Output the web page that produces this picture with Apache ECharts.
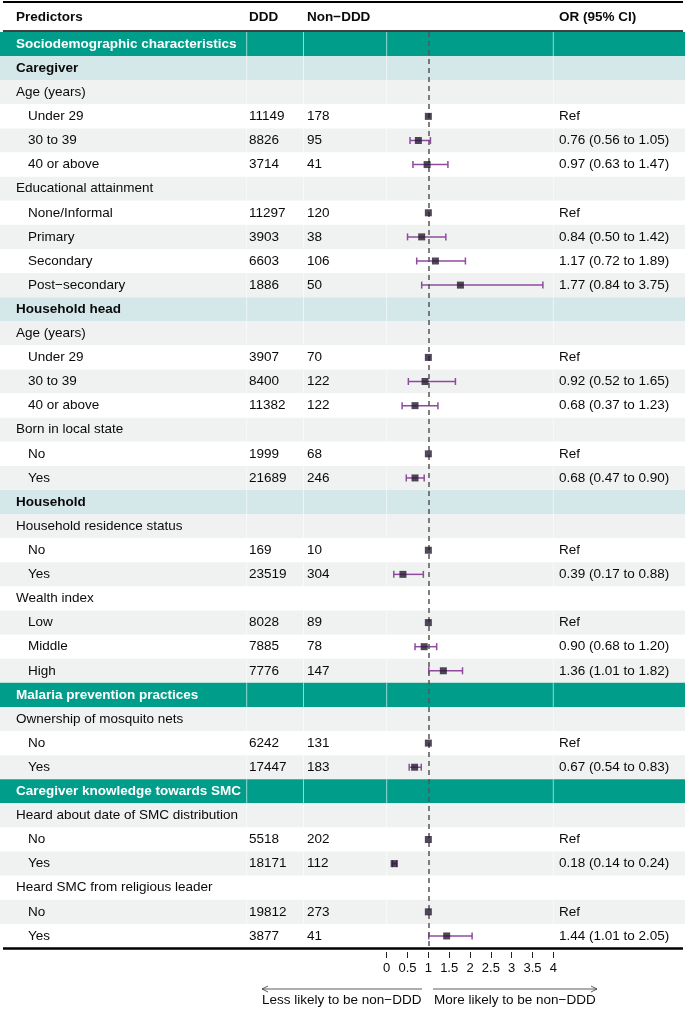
<!DOCTYPE html>
<html>
<head>
<meta charset="utf-8">
<script src="https://cdn.jsdelivr.net/npm/echarts@6/dist/echarts.min.js"></script>
<style>
html,body{margin:0;padding:0;background:#fff;}
#chart{width:685px;height:1010px;}
</style>
</head>
<body>
<div id="chart"></div>
<script>
// ---------------- data ----------------
const labels = ['Sociodemographic characteristics','Caregiver','Age (years)','Under 29','30 to 39','40 or above',
  'Educational attainment','None/Informal','Primary','Secondary','Post\u2212secondary',
  'Household head','Age (years)','Under 29','30 to 39','40 or above','Born in local state','No','Yes',
  'Household','Household residence status','No','Yes','Wealth index','Low','Middle','High',
  'Malaria prevention practices','Ownership of mosquito nets','No','Yes',
  'Caregiver knowledge towards SMC','Heard about date of SMC distribution','No','Yes',
  'Heard SMC from religious leader','No','Yes'];
const rowKind = ['section','sub','group','item','item','item','group','item','item','item','item',
  'sub','group','item','item','item','group','item','item',
  'sub','group','item','item','group','item','item','item',
  'section','group','item','item',
  'section','group','item','item','group','item','item'];
const ddd = [null,null,null,11149,8826,3714,null,11297,3903,6603,1886,
  null,null,3907,8400,11382,null,1999,21689,
  null,null,169,23519,null,8028,7885,7776,
  null,null,6242,17447,
  null,null,5518,18171,null,19812,3877];
const nonDdd = [null,null,null,178,95,41,null,120,38,106,50,
  null,null,70,122,122,null,68,246,
  null,null,10,304,null,89,78,147,
  null,null,131,183,
  null,null,202,112,null,273,41];
const orEst = [null,null,null,1,0.76,0.97,null,1,0.84,1.17,1.77,
  null,null,1,0.92,0.68,null,1,0.68,
  null,null,1,0.39,null,1,0.90,1.36,
  null,null,1,0.67,
  null,null,1,0.18,null,1,1.44];
const orLow = [null,null,null,null,0.56,0.63,null,null,0.50,0.72,0.84,
  null,null,null,0.52,0.37,null,null,0.47,
  null,null,null,0.17,null,null,0.68,1.01,
  null,null,null,0.54,
  null,null,null,0.14,null,null,1.01];
const orHigh = [null,null,null,null,1.05,1.47,null,null,1.42,1.89,3.75,
  null,null,null,1.65,1.23,null,null,0.90,
  null,null,null,0.88,null,null,1.20,1.82,
  null,null,null,0.83,
  null,null,null,0.24,null,null,2.05];
const xTicks = [0, 4, 0.5]; // min, max, interval
const headers = ['Predictors','DDD','Non\u2212DDD','OR (95% CI)'];
const arrowTexts = ['Less likely to be non\u2212DDD','More likely to be non\u2212DDD'];

// ---------------- layout ----------------
const FONT = '"Liberation Sans", Arial, Helvetica, sans-serif';
const FS = 13.5;
const TOP = 32, H = 916;
const COL = {label:16, indent:28, ddd:249, non:307, or:559};
const SEPS = [246.7, 303.5, 386.7, 553.3];
const C = {section:'#009e8a', sub:'#d4e7e9', gray:'#f0f1f1', white:'#ffffff',
  point:'#241a2e', bar:'#8f4a9f', dash:'#555555', text:'#0a0a0a'};

const rowIdx = labels.map((_, i) => String(i));

// stripe colours
const fills = [];
let k = 0;
rowKind.forEach(kind => {
  if (kind === 'section') { fills.push(C.section); k = 0; }
  else if (kind === 'sub') { fills.push(C.sub); k = 0; }
  else { fills.push(k % 2 === 0 ? C.gray : C.white); k++; }
});

function orText(i) {
  if (orEst[i] == null) return '';
  if (orLow[i] == null) return 'Ref';
  return orEst[i].toFixed(2) + ' (' + orLow[i].toFixed(2) + ' to ' + orHigh[i].toFixed(2) + ')';
}

function renderRow(params, api) {
  const i = api.value(1);
  const c = api.coord([0, i]);
  const band = api.size([0, 1])[1];
  const cs = params.coordSys;
  const top = c[1] - band / 2;
  const kind = rowKind[i];
  const children = [{
    type: 'rect', shape: {x: cs.x, y: top, width: cs.width, height: band},
    style: {fill: fills[i]}
  }];
  SEPS.forEach(sx => children.push({
    type: 'line', shape: {x1: cs.x + sx, y1: top, x2: cs.x + sx, y2: top + band},
    style: {stroke: '#ffffff', lineWidth: 1, opacity: 0.6}
  }));
  const bold = (kind === 'section' || kind === 'sub');
  const txtColor = kind === 'section' ? '#ffffff' : C.text;
  const tx = (x, s) => ({
    type: 'text', x: cs.x + x, y: c[1],
    style: {text: s, fill: txtColor, font: (bold ? 'bold ' : '') + FS + 'px ' + FONT,
      textAlign: 'left', textVerticalAlign: 'middle'}
  });
  children.push(tx(kind === 'item' ? COL.indent : COL.label, labels[i]));
  if (ddd[i] != null) children.push(tx(COL.ddd, String(ddd[i])));
  if (nonDdd[i] != null) children.push(tx(COL.non, String(nonDdd[i])));
  const ot = orText(i);
  if (ot) children.push(tx(COL.or, ot));
  return {type: 'group', children};
}

function renderBar(params, api) {
  const i = api.value(2);
  const p1 = api.coord([api.value(0), i]);
  const p2 = api.coord([api.value(1), i]);
  const h = 3.5;
  const st = {stroke: C.bar, lineWidth: 1.5};
  return {type: 'group', children: [
    {type: 'line', shape: {x1: p1[0], y1: p1[1], x2: p2[0], y2: p2[1]}, style: st},
    {type: 'line', shape: {x1: p1[0], y1: p1[1] - h, x2: p1[0], y2: p1[1] + h}, style: st},
    {type: 'line', shape: {x1: p2[0], y1: p2[1] - h, x2: p2[0], y2: p2[1] + h}, style: st}
  ]};
}

const tableData = labels.map((_, i) => [0, i]);
const barData = [];
const pointData = [];
labels.forEach((_, i) => {
  if (orEst[i] != null) pointData.push([orEst[i], i]);
  if (orLow[i] != null) barData.push([orLow[i], orHigh[i], i]);
});

const chart = echarts.init(document.getElementById('chart'), null, {renderer: 'canvas'});
const Y0 = 17, YB = 948.5;
chart.setOption({
  animation: false,
  backgroundColor: '#ffffff',
  textStyle: {fontFamily: FONT},
  grid: [
    {left: 0, top: TOP, width: 685, height: H},
    {left: 386.7, top: TOP, width: 166.6, height: H}
  ],
  xAxis: [
    {gridIndex: 0, type: 'value', min: 0, max: 1, show: false},
    {gridIndex: 1, type: 'value', min: xTicks[0], max: xTicks[1], interval: xTicks[2],
      offset: 4,
      axisLine: {show: false},
      axisTick: {show: true, length: 6, lineStyle: {color: '#222', width: 1}},
      axisLabel: {color: C.text, fontSize: 13, fontFamily: FONT, margin: 10},
      splitLine: {show: false}}
  ],
  yAxis: [
    {gridIndex: 0, type: 'category', data: rowIdx, inverse: true, show: false},
    {gridIndex: 1, type: 'category', data: rowIdx, inverse: true, show: false}
  ],
  series: [
    {type: 'custom', xAxisIndex: 0, yAxisIndex: 0, data: tableData, renderItem: renderRow,
      encode: {x: 0, y: 1}, silent: true, z: 1},
    {type: 'custom', xAxisIndex: 1, yAxisIndex: 1, data: barData, renderItem: renderBar,
      encode: {x: [0, 1], y: 2}, silent: true, z: 4},
    {type: 'scatter', xAxisIndex: 1, yAxisIndex: 1, data: pointData, symbol: 'rect', symbolSize: 7,
      itemStyle: {color: C.point}, z: 5,
      markLine: {silent: true, symbol: 'none', label: {show: false},
        lineStyle: {type: [5, 4], color: C.dash, width: 1.5},
        data: [{xAxis: 1}]}}
  ],
  graphic: [
    {type: 'line', shape: {x1: 3, y1: 2, x2: 683, y2: 2}, style: {stroke: '#000', lineWidth: 2}, z: 10},
    {type: 'line', shape: {x1: 3, y1: 31, x2: 683, y2: 31}, style: {stroke: '#000', lineWidth: 1.5}, z: 10},
    {type: 'line', shape: {x1: 3, y1: YB, x2: 683, y2: YB}, style: {stroke: '#000', lineWidth: 2.5}, z: 10},
    {type: 'text', x: COL.label, y: Y0, style: {text: headers[0], font: 'bold ' + FS + 'px ' + FONT, fill: C.text, textVerticalAlign: 'middle'}},
    {type: 'text', x: COL.ddd, y: Y0, style: {text: headers[1], font: 'bold ' + FS + 'px ' + FONT, fill: C.text, textVerticalAlign: 'middle'}},
    {type: 'text', x: COL.non, y: Y0, style: {text: headers[2], font: 'bold ' + FS + 'px ' + FONT, fill: C.text, textVerticalAlign: 'middle'}},
    {type: 'text', x: COL.or, y: Y0, style: {text: headers[3], font: 'bold ' + FS + 'px ' + FONT, fill: C.text, textVerticalAlign: 'middle'}},
    {type: 'polyline', shape: {points: [[422, 989], [262, 989]]}, style: {stroke: '#333', lineWidth: 0.8, fill: null}},
    {type: 'polyline', shape: {points: [[268, 986], [262, 989], [268, 992]]}, style: {stroke: '#333', lineWidth: 0.8, fill: null}},
    {type: 'polyline', shape: {points: [[433, 989], [597, 989]]}, style: {stroke: '#333', lineWidth: 0.8, fill: null}},
    {type: 'polyline', shape: {points: [[591, 986], [597, 989], [591, 992]]}, style: {stroke: '#333', lineWidth: 0.8, fill: null}},
    {type: 'text', x: 262, y: 1000, style: {text: arrowTexts[0], font: FS + 'px ' + FONT, fill: C.text, textVerticalAlign: 'middle'}},
    {type: 'text', x: 434, y: 1000, style: {text: arrowTexts[1], font: FS + 'px ' + FONT, fill: C.text, textVerticalAlign: 'middle'}}
  ]
});
</script>
</body>
</html>
